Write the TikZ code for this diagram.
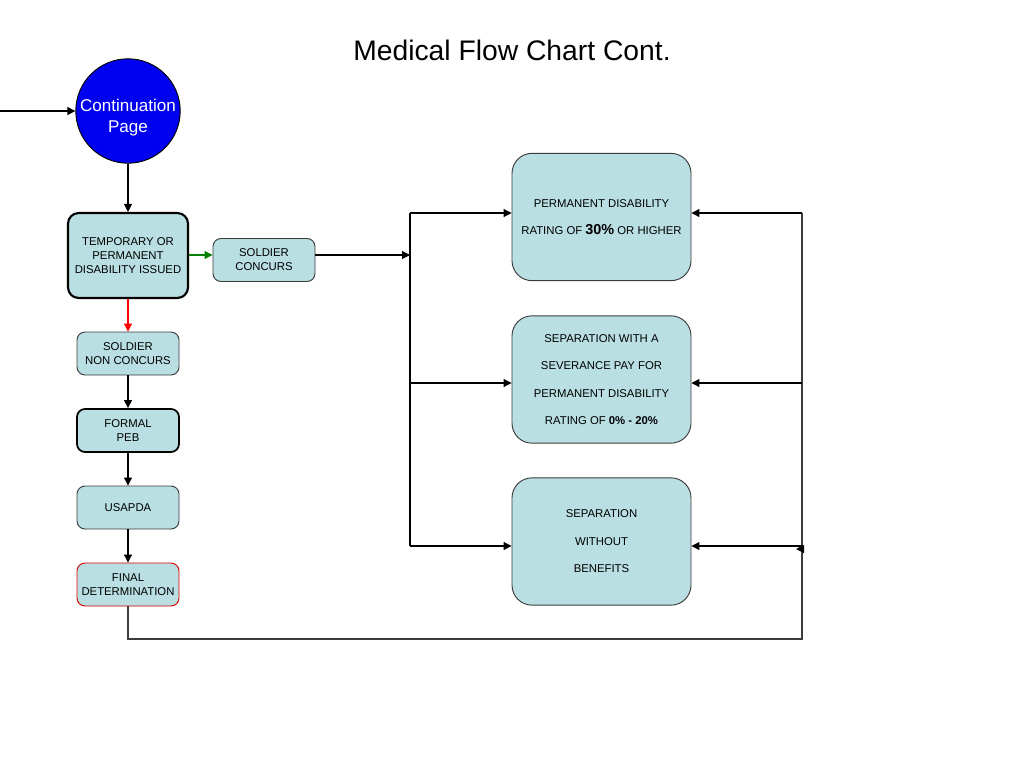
\documentclass[tikz,border=0pt]{standalone}
\usepackage{fontspec}
\setmainfont{Liberation Sans}
\usetikzlibrary{arrows.meta}
\definecolor{boxfill}{RGB}{185,223,227}
\definecolor{circblue}{RGB}{0,0,240}
\definecolor{lineg}{RGB}{60,60,60}
\begin{document}
\begin{tikzpicture}[x=0.75pt,y=-0.75pt,
  arr/.style={-{Triangle[length=6pt,width=6pt]},line width=0.8pt,black},
  plain/.style={line width=0.8pt,lineg},
  smallbox/.style={draw=lineg,line width=0.7pt,fill=boxfill,rounded corners=6pt,
    minimum width=76.5pt,minimum height=32.25pt,align=center,inner sep=1pt,
    font=\fontsize{8.5}{10.5}\selectfont},
  bigbox/.style={draw=lineg,line width=0.7pt,fill=boxfill,rounded corners=15pt,
    minimum width=134.25pt,minimum height=95.5pt,align=center,inner sep=1pt,
    font=\fontsize{8.5}{20.6}\selectfont}]
\useasboundingbox (0,0) rectangle (1024,768);
\fill[white] (0,0) rectangle (1024,768);
\node (title) at (512,50) {\fontsize{21.2}{25}\selectfont Medical Flow Chart Cont.};
% left column
\node[circle,draw=black,line width=0.7pt,fill=circblue,minimum size=76.5pt,inner sep=0pt,
  text=white,font=\fontsize{12.8}{15.75}\selectfont] (cont) at (128,111)
  {\raisebox{-5.2pt}[\height][\depth]{\begin{tabular}{@{}c@{}}Continuation\\Page\end{tabular}}};
\coordinate (in) at (0,111);
\node[smallbox,draw=black,line width=1.6pt,minimum width=90pt,minimum height=63.75pt,rounded corners=8pt] (temp) at (128,255.5)
  {TEMPORARY OR\\PERMANENT\\DISABILITY ISSUED};
\node[smallbox] (sc) at (264,260) {SOLDIER\\CONCURS};
\node[smallbox] (snc) at (128,353.5) {SOLDIER\\NON CONCURS};
\node[smallbox,draw=black,line width=1.3pt] (peb) at (128,430.5) {FORMAL\\PEB};
\node[smallbox] (usa) at (128,507.5) {USAPDA};
\node[smallbox,draw=red!85!black] (fin) at (128,584.5) {FINAL\\DETERMINATION};
% right column
\node[bigbox] (b1) at (601.5,217) {PERMANENT DISABILITY\\RATING OF {\fontsize{10.8}{12}\selectfont\bfseries 30\%} OR HIGHER};
\node[bigbox] (b2) at (601.5,379.5) {SEPARATION WITH A\\SEVERANCE PAY FOR\\PERMANENT DISABILITY\\RATING OF \textbf{0\% - 20\%}};
\node[bigbox] (b3) at (601.5,541.5) {SEPARATION\\WITHOUT\\BENEFITS};
% coordinates
\coordinate (j) at (410,255);
\coordinate (l1) at (410,213);
\coordinate (l2) at (410,383);
\coordinate (l3) at (410,546);
\coordinate (r1) at (802,213);
\coordinate (r2) at (802,383);
\coordinate (r3) at (802,546);
\coordinate (rb) at (802,639);
\coordinate (stray) at (802,549);
% connectors
\draw[arr] (in) -- (cont.west);
\draw[arr] (cont.south) -- (temp.north);
\draw[arr,green!50!black] (temp.east |- j) -- (sc.west |- j);
\draw[arr,red] (temp.south) -- (snc.north);
\draw[arr] (snc.south) -- (peb.north);
\draw[arr] (peb.south) -- (usa.north);
\draw[arr] (usa.south) -- (fin.north);
\draw[arr] (sc.east |- j) -- (j);
\draw[plain,black] (l1) -- (l3);
\draw[arr] (l1) -- (l1 -| b1.west);
\draw[arr] (l2) -- (l2 -| b2.west);
\draw[arr] (l3) -- (l3 -| b3.west);
\draw[plain] (fin.south) |- (rb) -- (r1);
\draw[arr] (r1) -- (r1 -| b1.east);
\draw[arr] (r2) -- (r2 -| b2.east);
\draw[arr] (r3) -- (r3 -| b3.east);
\draw[arr] (stray) -- ++(-6,0);
\end{tikzpicture}
\end{document}
